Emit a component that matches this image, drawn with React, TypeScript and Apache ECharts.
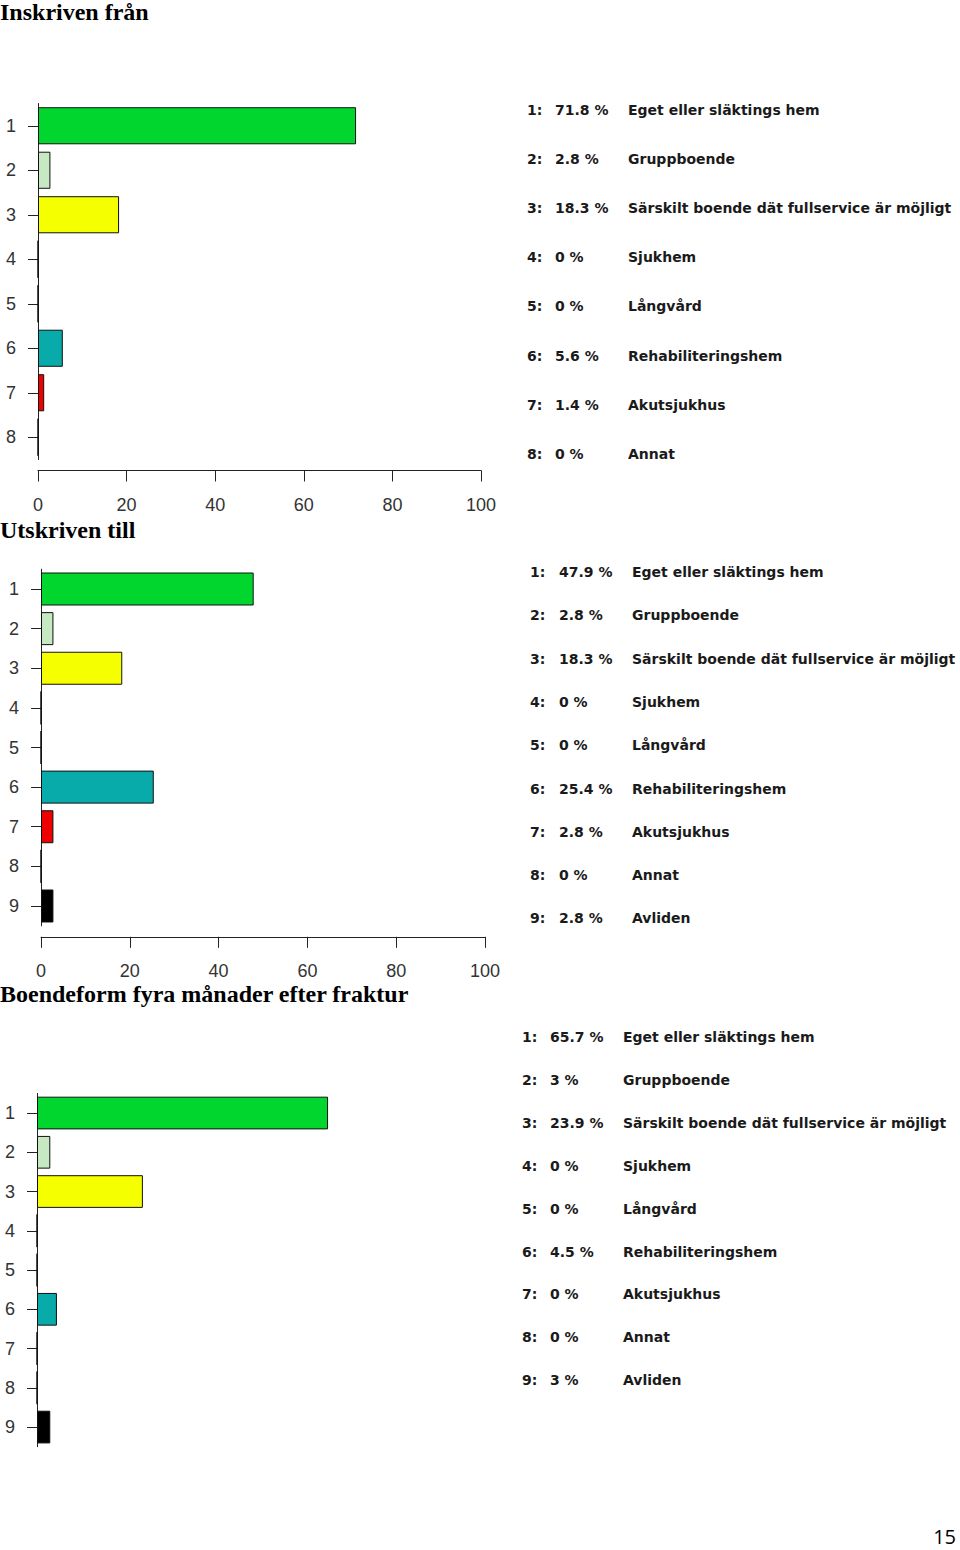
import React, { useEffect, useRef } from "react";
import * as echarts from "echarts";

const titles = ["Inskriven från", "Utskriven till", "Boendeform fyra månader efter fraktur"];
const cats8 = ["1", "2", "3", "4", "5", "6", "7", "8"];
const cats9 = ["1", "2", "3", "4", "5", "6", "7", "8", "9"];
const placeNames = [
  "Eget eller släktings hem",
  "Gruppboende",
  "Särskilt boende dät fullservice är möjligt",
  "Sjukhem",
  "Långvård",
  "Rehabiliteringshem",
  "Akutsjukhus",
  "Annat",
  "Avliden",
];
const inskrivenFran = [71.8, 2.8, 18.3, 0, 0, 5.6, 1.4, 0];
const utskrivenTill = [47.9, 2.8, 18.3, 0, 0, 25.4, 2.8, 0, 2.8];
const boendeform4m = [65.7, 3, 23.9, 0, 0, 4.5, 0, 0, 3];
const xTicks = [0, 20, 40, 60, 80, 100];
const barColors = ["#00d62e", "#c6e8c2", "#f5ff00", "#8080ff", "#ff80ff", "#08aaaa", "#ee0000", "#999999", "#000000"];
const pageNumber = "15";

// layout (pixels)
const panels = [
  { cats: cats8, vals: inskrivenFran, titleTop: 0, left: 38, top: 103.5, height: 356, width: 443, showX: true, legX: [527, 555, 628], legY0: 110, legDy: 49.1 },
  { cats: cats9, vals: utskrivenTill, titleTop: 518, left: 41, top: 569.2, height: 356.6, width: 444, showX: true, legX: [530, 559, 632], legY0: 572, legDy: 43.3 },
  { cats: cats9, vals: boendeform4m, titleTop: 982, left: 37, top: 1093.4, height: 353.3, width: 443, showX: false, legX: [522, 550, 623], legY0: 1037, legDy: 42.9 },
];

export default function App() {
  const ref = useRef<HTMLDivElement>(null);
  useEffect(() => {
    if (!ref.current) return;
    const chart = echarts.init(ref.current, undefined, { renderer: "svg" });
    const axisColor = "#222";
    const grid: any[] = [];
    const xAxis: any[] = [];
    const yAxis: any[] = [];
    const series: any[] = [];
    const graphic: any[] = [];
    panels.forEach((p, i) => {
      grid.push({ left: p.left, top: p.top, width: p.width, height: p.height, containLabel: false });
      xAxis.push({
        type: "value",
        gridIndex: i,
        min: xTicks[0],
        max: xTicks[xTicks.length - 1],
        interval: xTicks[1] - xTicks[0],
        show: p.showX,
        position: "bottom",
        offset: 11,
        splitLine: { show: false },
        axisLine: { show: true, lineStyle: { color: axisColor, width: 1 } },
        axisTick: { show: true, length: 11, lineStyle: { color: axisColor } },
        axisLabel: { margin: 25, fontFamily: "Liberation Sans", fontSize: 18, color: "#333" },
      });
      yAxis.push({
        type: "category",
        gridIndex: i,
        data: p.cats,
        inverse: true,
        axisLine: { show: true, lineStyle: { color: axisColor, width: 1 } },
        axisTick: { show: true, length: 10, alignWithLabel: true, lineStyle: { color: axisColor } },
        axisLabel: { margin: 22, fontFamily: "Liberation Sans", fontSize: 18, color: "#333" },
      });
      series.push({
        type: "bar",
        xAxisIndex: i,
        yAxisIndex: i,
        barCategoryGap: "16.7%",
        data: p.vals.map((v, k) => ({
          value: v,
          itemStyle: { color: barColors[k], borderColor: "#111", borderWidth: 1 },
        })),
      });
      graphic.push({
        type: "text",
        left: 0,
        top: p.titleTop,
        style: { text: titles[i], font: "bold 24px 'Liberation Serif'", fill: "#000" },
      });
      p.vals.forEach((v, k) => {
        const y = p.legY0 + k * p.legDy;
        const font = "bold 14px 'DejaVu Sans'";
        const fill = "#1a1a1a";
        graphic.push({ type: "text", x: p.legX[0], y, style: { text: `${k + 1}:`, font, fill, textVerticalAlign: "middle" } });
        graphic.push({ type: "text", x: p.legX[1], y, style: { text: `${v} %`, font, fill, textVerticalAlign: "middle" } });
        graphic.push({ type: "text", x: p.legX[2], y, style: { text: placeNames[k], font, fill, textVerticalAlign: "middle" } });
      });
    });
    graphic.push({
      type: "text",
      x: 956,
      y: 1536,
      style: { text: pageNumber, font: "20px 'Open Sans'", fill: "#000", textAlign: "right", textVerticalAlign: "middle" },
    });
    chart.setOption({
      animation: false,
      backgroundColor: "#fff",
      grid,
      xAxis,
      yAxis,
      series,
      graphic,
    });
    return () => chart.dispose();
  }, []);
  return <div ref={ref} style={{ position: "absolute", left: 0, top: 0, width: 960, height: 1550 }} />;
}
